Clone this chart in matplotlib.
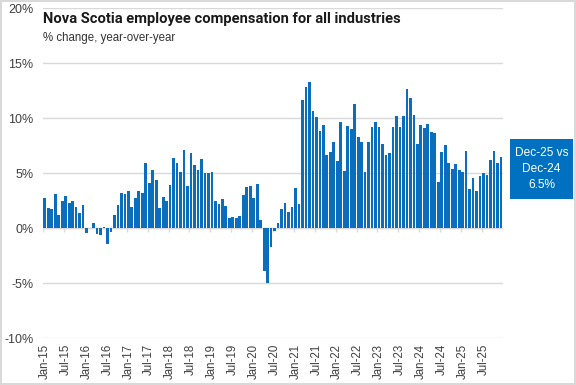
import matplotlib.pyplot as plt
from matplotlib.patches import FancyBboxPatch
import pandas as pd

# year-over-year % change, monthly Jan-2015 .. Dec-2025
y2015 = [2.7, 1.8, 1.7, 3.06, 1.15, 2.5, 2.9, 2.3, 2.5, 1.9, 1.4, 2.06]
y2016 = [-0.45, 0.02, 0.5, -0.55, -0.65, 0.1, -1.45, -0.35, 1.15, 2.06, 3.15, 3.06]
y2017 = [3.4, 1.9, 2.7, 3.4, 3.15, 5.9, 4.06, 5.24, 4.4, 1.8, 2.8, 2.5]
y2018 = [3.9, 6.4, 5.9, 5.06, 7.06, 3.8, 6.8, 5.7, 5.3, 6.24, 4.97, 4.97]
y2019 = [5.06, 2.5, 2.15, 2.6, 1.97, 0.88, 0.97, 0.88, 1.06, 2.97, 3.7, 3.8]
y2020 = [2.7, 3.97, 0.7, -3.9, -5.0, -1.73, -0.27, 0.5, 1.7, 2.24, 1.42, 1.88]
y2021 = [3.6, 2.2, 11.6, 12.85, 13.3, 10.6, 10.1, 8.85, 9.4, 6.6, 6.94, 7.85]
y2022 = [6.1, 9.67, 5.2, 9.3, 9.03, 11.3, 8.3, 7.85, 5.1, 7.85, 9.2, 9.6]
y2023 = [9.2, 7.67, 6.67, 6.85, 9.2, 10.2, 9.2, 10.2, 12.67, 11.85, 10.3, 7.67]
y2024 = [9.4, 9.1, 9.5, 8.76, 8.6, 4.2, 6.94, 7.58, 5.94, 5.4, 5.85, 5.3]
y2025 = [5.1, 7.03, 3.58, 4.58, 3.4, 4.76, 5.03, 4.85, 6.2, 7.03, 5.94, 6.5]

values = y2015 + y2016 + y2017 + y2018 + y2019 + y2020 + y2021 + y2022 + y2023 + y2024 + y2025
months = pd.date_range('2015-01-01', periods=len(values), freq='MS')
labels = [m.strftime('%b-%y') for m in months]
y_ticks = [-10, -5, 0, 5, 10, 15, 20]

blue = '#0a6ebd'
grid_col = '#d9d9d9'

fig = plt.figure(figsize=(5.76, 3.85), dpi=100)
fig.patch.set_edgecolor(grid_col)
fig.patch.set_linewidth(1.5)
ax = fig.add_axes([0.0747, 0.122, 0.798, 0.857])

x = list(range(len(values)))
ax.bar(x, values, width=0.78, color=blue, zorder=3)

ax.set_ylim(-10, 20)
ax.set_xlim(-0.5, len(values) - 0.5)
ax.set_yticks(y_ticks)
ax.set_yticklabels([f'{t}%' for t in y_ticks])
ax.grid(axis='y', color=grid_col, linewidth=1, zorder=0)
ax.axhline(0, color=grid_col, linewidth=1, zorder=2)

tick_pos = x[::6]
ax.set_xticks(tick_pos)
ax.set_xticklabels(labels[::6], rotation=90)
ax.vlines([p - 0.45 for p in tick_pos], 0, -0.35, color=grid_col, linewidth=1, zorder=2)

for s in ax.spines.values():
    s.set_visible(False)
ax.tick_params(axis='both', length=0, colors='#404040')
ax.tick_params(axis='y', pad=7, labelsize=9)
ax.tick_params(axis='x', pad=4, labelsize=8.3)
for t in ax.get_xticklabels() + ax.get_yticklabels():
    t.set_fontfamily('Liberation Sans')

fig.text(43 / 576, 1 - 19 / 385, 'Nova Scotia employee compensation for all industries',
         fontsize=10.6, fontweight='bold', family='Roboto',
         va='center', ha='left', color='#1a1a1a')
fig.text(43 / 576, 1 - 38 / 385, '% change, year-over-year', fontsize=8.3,
         family='Liberation Sans', va='center', ha='left', color='#333333')

box = FancyBboxPatch((510 / 576, 1 - 199 / 385), 63 / 576, 60 / 385,
                     boxstyle='square,pad=0', transform=fig.transFigure,
                     facecolor='#0070c0', edgecolor='none')
fig.patches.append(box)
fig.text(541.5 / 576, 1 - 169 / 385, 'Dec-25 vs\nDec-24\n6.5%', color='white',
         fontsize=8.6, family='Liberation Sans', ha='center', va='center', linespacing=1.4)

fig.savefig('out.png', dpi=100)
